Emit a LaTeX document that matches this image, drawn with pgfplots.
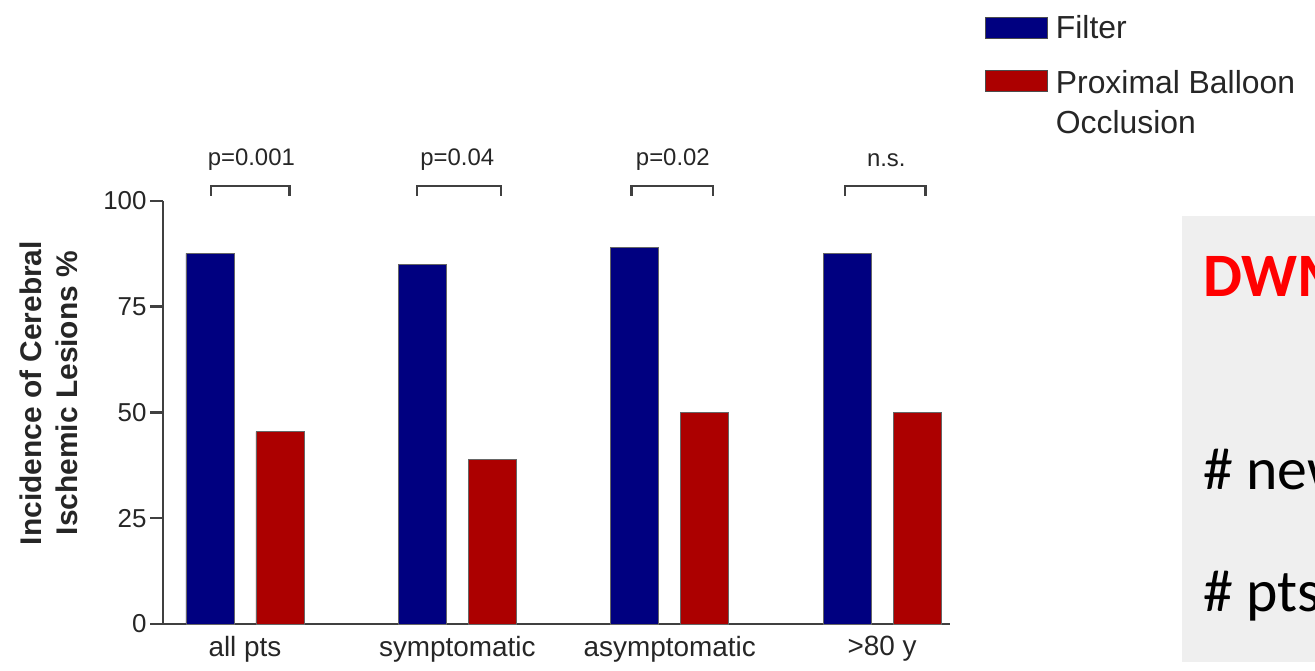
\documentclass[border=0pt]{standalone}
\usepackage{fontspec}
\setmainfont{Liberation Sans}
\newfontfamily\carlito{Carlito}
\usepackage{pgfplots}
\pgfplotsset{compat=1.18}
\definecolor{fblue}{RGB}{0,0,128}
\definecolor{bred}{RGB}{172,0,0}
\definecolor{axgray}{RGB}{64,64,64}
\definecolor{boxgray}{RGB}{239,239,239}
\begin{document}
\begin{tikzpicture}[x=1bp,y=1bp]
\useasboundingbox (0,0) rectangle (1315,670);
\fill[boxgray] (1182,8) rectangle (1315,454);
\begin{scope}
\clip (1182,8) rectangle (1315,454);
\node[anchor=base west, inner sep=0, text=red, font=\carlito\bfseries\fontsize{62}{70}\selectfont] at (1203,373) {DWMRI};
\node[anchor=base west, inner sep=0, font=\carlito\fontsize{60}{70}\selectfont] at (1203,180) {\# new lesions};
\node[anchor=base west, inner sep=0, font=\carlito\fontsize{60}{70}\selectfont] at (1203,58) {\# pts};
\end{scope}
\begin{axis}[
  at={(163bp,46bp)}, anchor=south west,
  width=787bp, height=423bp, scale only axis,
  xmin=-0.386, xmax=3.32, ymin=0, ymax=100,
  axis lines*=left,
  axis line style={axgray, line width=2.5bp},
  ytick={0,25,50,75,100},
  ytick style={axgray, line width=2.5bp},
  major tick length=13bp, tick align=outside,
  xtick={0,1,2,3},
  xticklabels={all pts, symptomatic, asymptomatic, >80 y},
  xtick style={draw=none},
  xticklabel style={font=\fontsize{28}{30}\selectfont, text=black!85, yshift=4bp},
  yticklabel style={font=\fontsize{26}{28}\selectfont, text=black!85},
  /pgf/number format/assume math mode=true,
  ylabel={Incidence of Cerebral\\Ischemic Lesions \%},
  ylabel style={at={(rel axis cs:-0.145,0.546)}, anchor=center, align=center,
    font=\bfseries\fontsize{30}{36}\selectfont, text=black!85},
  clip=false,
  legend style={draw=none, fill=none, at={(rel axis cs:1.040,1.444)}, anchor=north west,
    font=\fontsize{32}{40}\selectfont, text=black!85,
    nodes={inner sep=0pt}, row sep=26bp,
    /tikz/every odd column/.style={column sep=8bp}},
  legend cell align=left,
  legend image code/.code={\draw[#1,/tikz/.cd,bar width=62bp,bar shift=31bp,yshift=-11bp,line width=1.2bp,draw=black!70] plot coordinates {(0bp,21bp)};},
]
\addplot[ybar, bar width=48bp, bar shift=-35bp, fill=fblue, draw=black!60, line width=0.8bp]
  coordinates {(0,87.6) (1,85.0) (2,89.0) (3,87.6)};
\addlegendentry{Filter}
\addplot[ybar, bar width=48bp, bar shift=35bp, fill=bred, draw=black!60, line width=0.8bp]
  coordinates {(0,45.5) (1,38.8) (2,50.0) (3,50.0)};
\addlegendentry{\begin{tabular}[t]{@{}l@{}}Proximal Balloon\\Occlusion\end{tabular}}
% significance brackets
\draw[axgray, line width=2.5bp] (axis cs:-0.16,101.2) -- (axis cs:-0.16,103.5) -- (axis cs:0.21,103.5) -- (axis cs:0.21,101.2);
\draw[axgray, line width=2.5bp] (axis cs:0.81,101.2) -- (axis cs:0.81,103.5) -- (axis cs:1.205,103.5) -- (axis cs:1.205,101.2);
\draw[axgray, line width=2.5bp] (axis cs:1.82,101.2) -- (axis cs:1.82,103.5) -- (axis cs:2.205,103.5) -- (axis cs:2.205,101.2);
\draw[axgray, line width=2.5bp] (axis cs:2.825,101.2) -- (axis cs:2.825,103.5) -- (axis cs:3.205,103.5) -- (axis cs:3.205,101.2);
\node[font=\fontsize{24}{26}\selectfont, text=black!85] at (axis cs:0.03,109.7) {p=0.001};
\node[font=\fontsize{24}{26}\selectfont, text=black!85] at (axis cs:1.0,109.7) {p=0.04};
\node[font=\fontsize{24}{26}\selectfont, text=black!85] at (axis cs:2.015,109.7) {p=0.02};
\node[font=\fontsize{24}{26}\selectfont, text=black!85] at (axis cs:3.02,109.7) {n.s.};
\end{axis}
\end{tikzpicture}
\end{document}
